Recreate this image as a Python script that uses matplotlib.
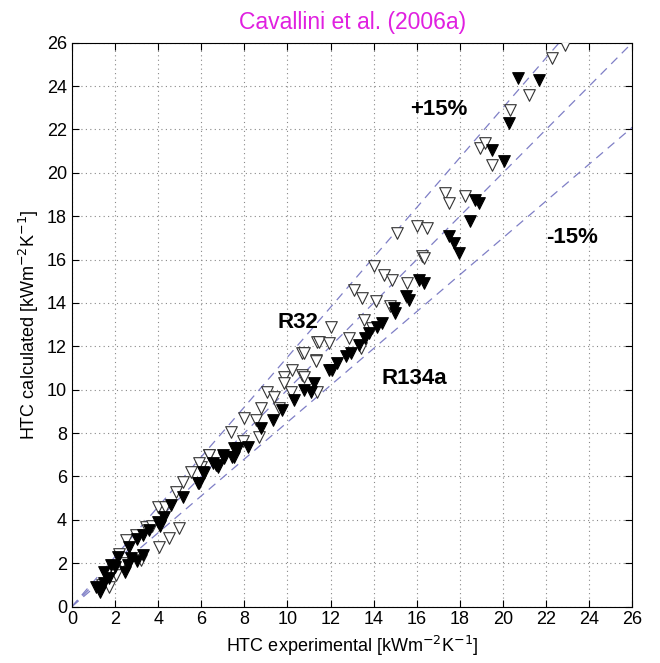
import numpy as np
import matplotlib
matplotlib.use('Agg')
import matplotlib.pyplot as plt

plt.rcParams['font.family'] = ['Liberation Sans', 'DejaVu Sans']

# R32 (open triangles): experimental, calculated
r32_exp = [1.4, 1.74, 2.05, 1.9, 1.6, 2.3, 2.2, 2.51, 2.98, 3.21, 3.44, 3.7, 3.98, 4.06, 4.3,
           4.52, 4.83, 4.98, 5.14, 5.52, 5.99, 6.37, 5.91, 6.37, 7.38, 7.92, 7.99, 8.53, 8.69,
           8.76, 9.07, 9.38, 9.61, 9.84, 9.84, 10.15, 10.23, 10.69, 10.69, 10.77, 10.77, 11.31,
           11.31, 11.39, 11.39, 11.46, 11.93, 12.00, 12.85, 13.08, 13.39, 13.47, 13.55, 13.94,
           14.01, 14.09, 14.47, 14.78, 14.86, 15.09, 15.56, 16.02, 16.25, 16.33, 16.48, 17.33,
           17.49, 18.25, 18.95, 19.18, 19.49, 20.34, 21.19, 22.27, 22.88]
r32_calc = [1.0, 0.91, 1.45, 1.7, 1.5, 2.0, 2.4, 3.07, 3.30, 2.15, 3.68, 3.7, 4.61, 2.76, 4.6,
            3.15, 5.30, 3.61, 5.76, 6.22, 6.45, 6.99, 6.61, 6.99, 8.07, 7.61, 8.68, 8.61, 7.84,
            9.15, 9.91, 9.68, 9.15, 10.60, 10.30, 9.91, 10.91, 11.68, 10.68, 11.68, 10.60, 11.38,
            11.30, 12.22, 9.91, 12.22, 12.15, 12.91, 12.38, 14.61, 11.92, 14.22, 13.22, 12.84,
            15.68, 14.07, 15.30, 13.84, 15.07, 17.22, 14.91, 17.53, 16.15, 16.07, 17.45, 19.07,
            18.61, 18.91, 21.14, 21.38, 20.37, 22.91, 23.60, 25.30, 25.91]

# R134a (filled triangles)
r134a_exp = [1.12, 1.28, 1.35, 1.5, 1.51, 1.7, 1.82, 2.0, 2.13, 2.44, 2.6, 2.67, 2.75, 3.0,
             3.0, 3.29, 3.3, 3.59, 3.98, 4.1, 4.29, 4.60, 5.14, 5.83, 5.91, 6.06, 6.14, 6.53,
             6.68, 6.76, 6.99, 7.07, 7.45, 7.53, 7.53, 7.69, 8.15, 8.76, 9.31, 9.77, 10.31,
             10.77, 11.08, 11.23, 11.93, 12.08, 12.31, 12.70, 12.93, 13.31, 13.62, 13.78, 14.16,
             14.39, 14.93, 15.01, 15.48, 15.63, 16.09, 16.33, 17.49, 17.71, 17.95, 18.49, 18.72,
             18.88, 19.49, 20.03, 20.26, 20.72, 21.65]
r134a_calc = [0.92, 0.68, 0.85, 1.1, 1.61, 1.3, 1.92, 1.8, 2.30, 1.61, 1.9, 2.76, 2.22, 2.1,
              3.1, 2.38, 3.3, 3.53, 3.91, 3.7, 4.14, 4.68, 5.07, 5.69, 5.69, 6.22, 6.15, 6.61,
              6.53, 6.45, 6.99, 6.84, 6.91, 7.30, 6.91, 7.30, 7.37, 8.22, 8.61, 9.07, 9.53,
              9.99, 9.91, 10.30, 10.91, 10.91, 11.22, 11.53, 11.68, 12.07, 12.38, 12.61, 12.91,
              13.07, 13.76, 13.53, 14.30, 14.14, 15.05, 14.9, 17.07, 16.76, 16.30, 17.76, 18.76,
              18.61, 21.07, 20.53, 22.29, 24.37, 24.30]

ax_max = 26
ticks = np.arange(0, 27, 2)
line_factors = [1.15, 1.0, 0.85]

fig = plt.figure(figsize=(6.6, 6.63), dpi=100)
ax = fig.add_axes([0.109, 0.0852, 0.849, 0.8504])

xs = np.array([0, ax_max])
for f in line_factors:
    ax.plot(xs, f * xs, linestyle=(0, (7, 5)), color='#7f7fc6', linewidth=0.9, zorder=2)

ax.scatter(r32_exp, r32_calc, marker='v', s=70, facecolors='white',
           edgecolors='#333333', linewidths=0.8, zorder=3)
ax.scatter(r134a_exp, r134a_calc, marker='v', s=70, facecolors='black',
           edgecolors='black', linewidths=0.8, zorder=4)

ax.set_xlim(0, ax_max)
ax.set_ylim(0, ax_max)
ax.set_xticks(ticks)
ax.set_yticks(ticks)
ax.tick_params(direction='in', top=True, right=True, labelsize=13, length=5)
ax.grid(True, linestyle=(0, (1, 3)), color='#888888', linewidth=0.8)
ax.set_axisbelow(True)
for s in ax.spines.values():
    s.set_linewidth(0.8)

ax.set_xlabel('HTC experimental [kWm$^{-2}$K$^{-1}$]', fontsize=13)
ax.set_ylabel('HTC calculated [kWm$^{-2}$K$^{-1}$]', fontsize=13)
ax.set_title('Cavallini et al. (2006a)', color='#e020e0', fontsize=16.5, pad=10)

ax.text(17.0, 22.9, '+15%', fontsize=16, fontweight='bold', ha='center', va='center')
ax.text(23.2, 17.0, '-15%', fontsize=16, fontweight='bold', ha='center', va='center')
ax.text(10.5, 13.1, 'R32', fontsize=16, fontweight='bold', ha='center', va='center')
ax.text(15.9, 10.5, 'R134a', fontsize=16, fontweight='bold', ha='center', va='center')

fig.savefig('out.png', dpi=100)
